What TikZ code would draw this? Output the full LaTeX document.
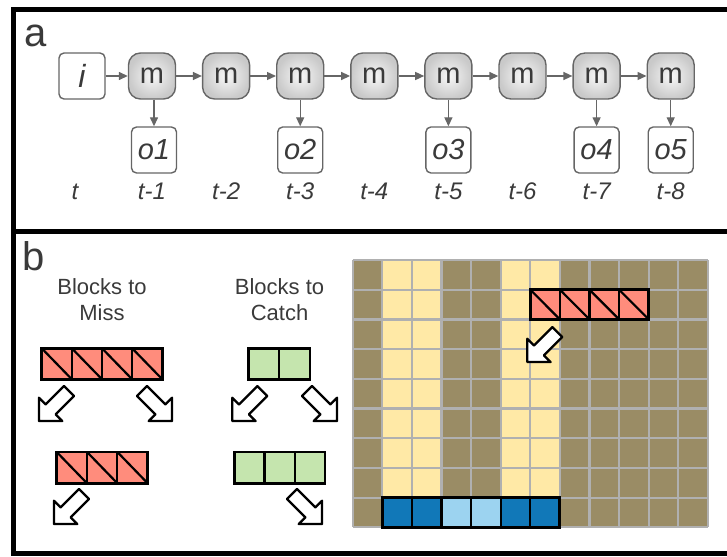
\documentclass[tikz,border=0pt]{standalone}
\usepackage{fontspec}
\setmainfont{Liberation Sans}
\usetikzlibrary{arrows.meta}
\definecolor{txt}{HTML}{3A3A3A}
\definecolor{edge}{HTML}{666666}
\definecolor{missred}{HTML}{FF8C7C}
\definecolor{catchgreen}{HTML}{C5E5AE}
\definecolor{darkblue}{HTML}{1178B8}
\definecolor{lightblue}{HTML}{9CD3F0}
\definecolor{khaki}{HTML}{9A8C65}
\definecolor{paleyellow}{HTML}{FFE9A6}
\definecolor{gridgray}{HTML}{B0B0B0}
\newcommand{\missrow}[5]{%
  \foreach \k in {1,...,#3} {
    \draw[cellline, fill=missred] ({#1+#4*(\k-1)},#2) rectangle ++(#4,#5);
    \draw[cellline] ({#1+#4*(\k-1)},#2) -- ++(#4,#5);
  }
  \draw[outerline] (#1,#2) rectangle ++({#4*#3},#5);
}
\newcommand{\plainrow}[6]{%
  \foreach \col [count=\k from 0] in {#6} {
    \draw[cellline, fill=\col] ({#1+#4*\k},#2) rectangle ++(#4,#5);
  }
  \draw[outerline] (#1,#2) rectangle ++({#4*#3},#5);
}
\tikzset{
  panel/.style={line width=5pt, draw=black},
  panellabel/.style={text=txt, font=\fontsize{40}{40}\selectfont, inner sep=0pt, anchor=base west},
  ibox/.style={draw=edge, line width=1.4pt, rounded corners=5pt, fill=white,
    minimum width=46pt, minimum height=46pt, inner sep=0pt, text=txt,
    font=\fontsize{29}{29}\selectfont\itshape},
  obox/.style={ibox, minimum width=45pt},
  mbox/.style={draw=edge, line width=1.4pt, rounded corners=12pt,
    inner color=gray!6, outer color=gray!42,
    minimum width=47pt, minimum height=46pt, inner sep=0pt, text=txt,
    font=\fontsize{29}{29}\selectfont},
  tlab/.style={text=txt, font=\fontsize{24}{24}\selectfont\itshape, inner sep=0pt, anchor=base},
  conn/.style={draw=edge, line width=1.4pt, -{Triangle[length=9pt,width=8pt]}},
  heading/.style={text=txt, align=center, font=\fontsize{22}{26}\selectfont, inner sep=0pt},
  cellline/.style={draw=black, line width=2.2pt},
  outerline/.style={draw=black, line width=2.9pt},
  gline/.style={draw=gridgray, line width=2.2pt},
  hollowarrow/.pic={\draw[line width=2.3pt, fill=white, line join=round]
    (0,-7) -- (26,-7) -- (26,-16.5) -- (42.5,0) -- (26,16.5) -- (26,7) -- (0,7) -- cycle;}
}
\begin{document}
\begin{tikzpicture}[x=1pt,y=-1pt]
\useasboundingbox (0,0) rectangle (727,556);
% panels
\draw[panel] (13.3,9.8) rectangle (760,231.3);
\draw[panel] (13.3,231.3) rectangle (760,553.5);
\node[panellabel] (la) at (24.5,47) {a};
\node[panellabel] (lb) at (22.5,270) {b};
% panel a
\node[ibox, font=\fontsize{32}{32}\selectfont\itshape] (i) at (82,76) {i};
\foreach \k in {0,...,7} {
  \node[mbox] (m\k) at ({152+74.1*\k},76) {m};
}
\node[obox] (o1) at (154,150) {o1};
\node[obox] (o2) at (m2 |- 0,150) {o2};
\node[obox] (o3) at (m4 |- 0,150) {o3};
\node[obox] (o4) at (m6 |- 0,150) {o4};
\node[obox] (o5) at (m7 |- 0,150) {o5};
\draw[conn] (i) -- (m0);
\foreach \k [evaluate=\k as \n using int(\k+1)] in {0,...,6} {
  \draw[conn] (m\k) -- (m\n);
}
\draw[conn] (o1 |- m0.south) -- (o1);
\draw[conn] (m2) -- (o2);
\draw[conn] (m4) -- (o3);
\draw[conn] (m6) -- (o4);
\draw[conn] (m7) -- (o5);
\node[tlab] (t0) at (75,199) {t};
\foreach \k [evaluate=\k as \n using int(\k+1)] in {0,...,7} {
  \node[tlab] (t\n) at ({152+74.1*\k},199) {t-\n};
}
% panel b: legend
\node[heading] (hmiss) at (102,300) {Blocks to\\Miss};
\node[heading] (hcatch) at (279.5,300) {Blocks to\\Catch};
\missrow{41.7}{348.3}{4}{30.15}{31}
\missrow{56.7}{452}{3}{30.33}{31.3}
\plainrow{248.3}{348.3}{2}{30.85}{31}{catchgreen,catchgreen}
\plainrow{234.3}{452}{3}{30.23}{31.3}{catchgreen,catchgreen,catchgreen}
\pic[rotate=225] at (69,391) {hollowarrow};
\pic[rotate=-45] at (142,391) {hollowarrow};
\pic[rotate=225] at (262.3,391) {hollowarrow};
\pic[rotate=-45] at (307,391) {hollowarrow};
\pic[rotate=225] at (84,494) {hollowarrow};
\pic[rotate=-45] at (292,494) {hollowarrow};
% panel b: grid
\fill[khaki] (352.7,260) rectangle (707.9,527.3);
\fill[paleyellow] ({352.7+29.6},260) rectangle ({352.7+29.6*3},527.3);
\fill[paleyellow] ({352.7+29.6*5},260) rectangle ({352.7+29.6*7},527.3);
\foreach \c in {0,...,12} {
  \draw[gline] ({352.7+29.6*\c},260) -- ({352.7+29.6*\c},527.3);
}
\foreach \r in {0,...,9} {
  \draw[gline] (352.7,{260+29.7*\r}) -- (707.9,{260+29.7*\r});
}
\missrow{530.3}{289.7}{4}{29.6}{29.7}
\plainrow{382.3}{497.6}{6}{29.6}{29.7}{darkblue,darkblue,lightblue,lightblue,darkblue,darkblue}
\pic[rotate=225] at (557.3,332) {hollowarrow};
\end{tikzpicture}
\end{document}
